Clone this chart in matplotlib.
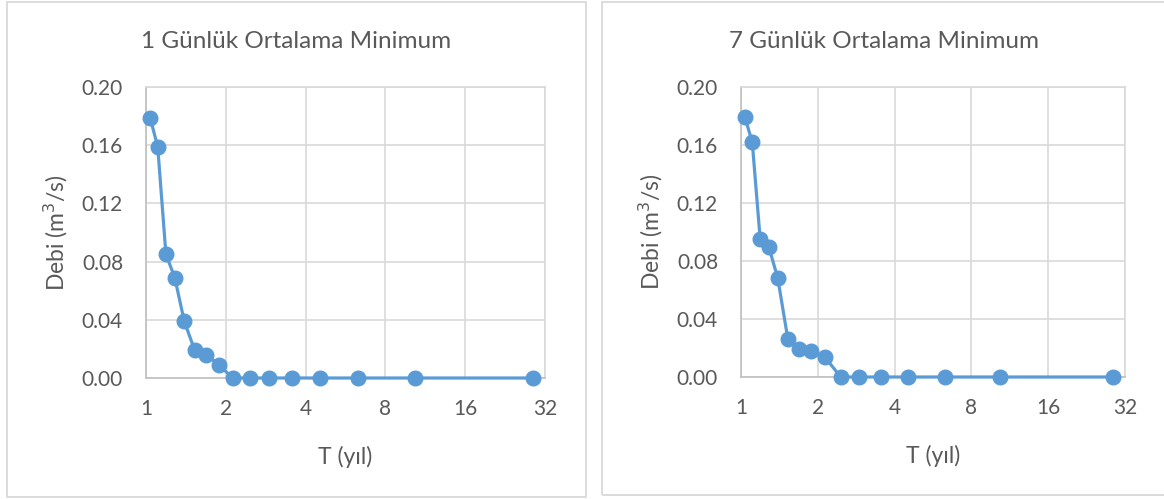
"""Minimum flow frequency curves (1-day and 7-day averages)."""

import matplotlib.pyplot as plt
from matplotlib.patches import Rectangle
from matplotlib.ticker import FuncFormatter

# Return periods (years)
return_period = [1.036, 1.107, 1.189, 1.284, 1.394, 1.527, 1.688, 1.882,
                 2.126, 2.459, 2.899, 3.539, 4.528, 6.304, 10.33, 28.79]

# Discharge (m3/s)
flow_1day = [0.179, 0.159, 0.085, 0.069, 0.039, 0.019, 0.016, 0.009,
             0.0, 0.0, 0.0, 0.0, 0.0, 0.0, 0.0, 0.0]
flow_7day = [0.179, 0.162, 0.095, 0.090, 0.068, 0.026, 0.019, 0.018,
             0.014, 0.0, 0.0, 0.0, 0.0, 0.0, 0.0, 0.0]

titles = ["1 Günlük Ortalama Minimum", "7 Günlük Ortalama Minimum"]
x_ticks = [1.0, 2.0, 4.0, 8.0, 16.0, 32.0]
x_tick_labels = ["1", "2", "4", "8", "16", "32"]
y_ticks = [0.00, 0.04, 0.08, 0.12, 0.16, 0.20]

BLUE = "#5B9BD5"
TEXT = "#595959"
GRID = "#D9D9D9"
AXIS = "#BFBFBF"

plt.rcParams["font.family"] = ["Lato", "DejaVu Sans"]

W, H = 1164, 499
fig = plt.figure(figsize=(W / 100, H / 100), dpi=100)


def px_rect(x0, y0, x1, y1):
    """Figure-fraction [left, bottom, width, height] from pixel box."""
    return [x0 / W, 1 - y1 / H, (x1 - x0) / W, (y1 - y0) / H]


# chart frames (pixel boxes) and plot areas inside them
frames = [(6.5, 1.5, 585.5, 496.5), (602, 1.5, 1166, 494.5)]
axes_boxes = [(146, 87, 545, 378), (741, 87, 1125, 377)]
series = [flow_1day, flow_7day]

for frame, box, flow, title in zip(frames, axes_boxes, series, titles):
    fig.patches.append(Rectangle(px_rect(*frame)[:2], *px_rect(*frame)[2:],
                                 transform=fig.transFigure, fill=False,
                                 edgecolor=GRID, linewidth=1.3))
    fig.text((frame[0] + frame[2]) / 2 / W, 1 - 48 / H, title,
             fontsize=17.5, color=TEXT, ha="center", va="baseline")

    ax = fig.add_axes(px_rect(*box))
    ax.set_xscale("log", base=2)
    ax.plot(return_period, flow, color=BLUE, linewidth=2.3, marker="o",
            markersize=10.5, clip_on=False, zorder=3)
    ax.set_xlim(1, 32)
    ax.set_ylim(0, 0.20)
    ax.set_xticks(x_ticks, labels=x_tick_labels)
    ax.minorticks_off()
    ax.set_yticks(y_ticks)
    ax.yaxis.set_major_formatter(FuncFormatter(lambda v, _: f"{v:.2f}"))
    ax.grid(True, color=GRID, linewidth=1.2)
    ax.set_axisbelow(True)
    for side in ("top", "right"):
        ax.spines[side].set_color(GRID)
        ax.spines[side].set_linewidth(1.2)
    for side in ("left", "bottom"):
        ax.spines[side].set_color(AXIS)
        ax.spines[side].set_linewidth(1.2)
    ax.tick_params(length=0, labelsize=15, labelcolor=TEXT)
    ax.tick_params(axis="y", pad=16.5)
    ax.tick_params(axis="x", pad=15)

    width_px = box[2] - box[0]
    height_px = box[3] - box[1]
    ax.set_xlabel("T (yıl)", fontsize=16.5, color=TEXT)
    ax.xaxis.set_label_coords(0.5, -68 / height_px)
    ax.set_ylabel("Debi (m$^3$/s)", fontsize=16.5, color=TEXT)
    ax.yaxis.set_label_coords(-76 / width_px, 0.5)

fig.savefig("out.png", dpi=100)
